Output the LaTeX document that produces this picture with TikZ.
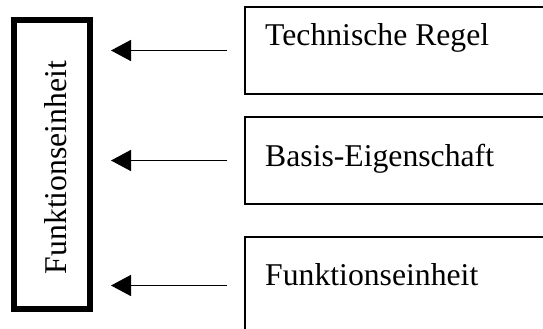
\documentclass[tikz,border=0pt]{standalone}
\usepackage{fontspec}
\setmainfont{Liberation Serif}
\usetikzlibrary{arrows.meta}
\tikzset{
  box_fe/.style = {rectangle, draw=black, line width=6pt,
    minimum width=76pt, minimum height=288.5pt, inner sep=0pt},% linke Box, dick
  txt_fe/.style = {rotate=90, anchor=base, inner sep=0pt,
    font=\fontsize{31.7pt}{38pt}\selectfont},
  box_r/.style = {rectangle, draw=black, line width=1.5pt, anchor=west,
    minimum width=400pt, inner sep=0pt},% rechte Boxen, rechts offen
  txt_r/.style = {anchor=base west, inner sep=0pt,
    font=\fontsize{31.7pt}{38pt}\selectfont},
  pfeil/.style = {-{Triangle[length=20pt,width=21pt]}, line width=1.5pt,
    shorten <=17pt, shorten >=18pt},
}

\begin{document}
\begin{tikzpicture}[x=1pt,y=1pt]
  \useasboundingbox (0,0) rectangle (543,-329);
  \clip (0,0) rectangle (543,-329);
%   linke Seite
  \node[box_fe] (fe) at (52,-164.25) {};
  \node[txt_fe] (fe_t) at (66,-167.5) {Funktionseinheit};

%   rechte Seite
  \node[box_r, minimum height=87pt] (r1) at (244,-50.5) {};
  \node[box_r, minimum height=87pt] (r2) at (244,-160.5) {};
  \node[box_r, minimum height=97pt] (r3) at (244,-285.5) {};
  \node[txt_r] (r1_t) at (265,-46) {Technische Regel};
  \node[txt_r] (r2_t) at (265,-166) {Basis-Eigenschaft};
  \node[txt_r] (r3_t) at (265,-285) {Funktionseinheit};

%   Pfeile
  \draw[pfeil] (r1.west) -- (r1.west -| fe.east);
  \draw[pfeil] (r2.west) -- (r2.west -| fe.east);
  \draw[pfeil] (r3.west) -- (r3.west -| fe.east);
\end{tikzpicture}
\end{document}
